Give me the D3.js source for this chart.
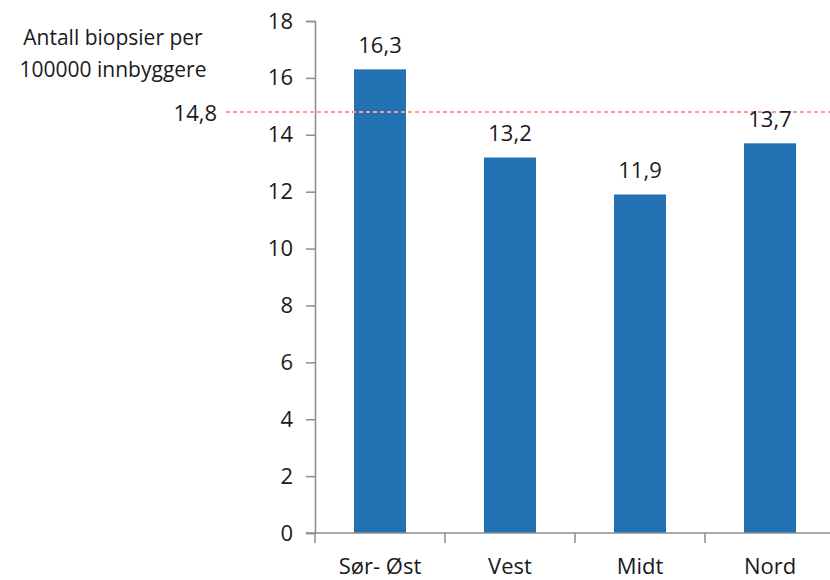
<!DOCTYPE html>
<html><head><meta charset="utf-8">
<script src="https://cdn.jsdelivr.net/npm/d3@7"></script>
<style>body{margin:0;background:#fff}svg{display:block}text{font-family:"Open Sans","Liberation Sans",sans-serif;fill:#1a1a1a}</style>
</head><body>
<svg id="c" width="830" height="580"></svg>
<script>
const categories = ["Sør- Øst", "Vest", "Midt", "Nord"];
const values = [16.3, 13.2, 11.9, 13.7];
const valueLabels = ["16,3", "13,2", "11,9", "13,7"];
const yTicks = [0, 2, 4, 6, 8, 10, 12, 14, 16, 18];
const refValue = 14.8;
const refLabel = "14,8";
const yTitle = ["Antall biopsier per", "100000 innbyggere"];

const FS = 22;
const svg = d3.select("#c");
const x = d3.scaleBand().domain(categories).range([315, 835]).paddingInner(0.6).paddingOuter(0.3);
const y = d3.scaleLinear().domain([0, 18]).range([533, 21]);
const axisColor = "#8c8c8c";

// bars
svg.selectAll("rect.bar").data(values).join("rect")
  .attr("class", "bar")
  .attr("x", (d, i) => x(categories[i]))
  .attr("width", x.bandwidth())
  .attr("y", d => y(d))
  .attr("height", d => y(0) - y(d))
  .attr("fill", "#2271b3");

// y axis
const yAxis = svg.append("g").attr("transform", "translate(315,0)")
  .call(d3.axisLeft(y).tickValues(yTicks).tickSize(9).tickPadding(13).tickFormat(d3.format("d")));
yAxis.select(".domain").attr("stroke", axisColor).attr("stroke-width", 1.5);
yAxis.selectAll(".tick line").attr("stroke", axisColor).attr("stroke-width", 1.5);
yAxis.selectAll(".tick text").attr("font-size", FS).attr("font-family", "Open Sans").attr("fill", "#1a1a1a");

// x axis
const xg = svg.append("g").attr("transform", `translate(0,${y(0)})`);
xg.append("line").attr("x1", 306).attr("x2", 830).attr("stroke", axisColor).attr("stroke-width", 1.5);
const step = x.step();
const boundaries = d3.range(categories.length + 1).map(i => 315 + i * step);
xg.selectAll("line.bt").data(boundaries).join("line").attr("class", "bt")
  .attr("x1", d => d).attr("x2", d => d).attr("y1", 0).attr("y2", 10)
  .attr("stroke", axisColor).attr("stroke-width", 1.5);
xg.selectAll("text").data(categories).join("text")
  .attr("x", d => x(d) + x.bandwidth() / 2).attr("y", 41)
  .attr("text-anchor", "middle").attr("font-size", FS).text(d => d);

// reference line
svg.append("line").attr("x1", 226).attr("x2", 830)
  .attr("y1", y(refValue)).attr("y2", y(refValue))
  .attr("stroke", "#ff9a94").attr("stroke-width", 2).attr("stroke-dasharray", "4,3");
svg.append("text").attr("x", 217).attr("y", y(refValue) + 8.5)
  .attr("text-anchor", "end").attr("font-size", FS).text(refLabel);

// value labels
svg.selectAll("text.val").data(values).join("text").attr("class", "val")
  .attr("x", (d, i) => x(categories[i]) + x.bandwidth() / 2)
  .attr("y", d => y(d) - 16.5)
  .attr("text-anchor", "middle").attr("font-size", FS).text((d, i) => valueLabels[i]);

// y title
svg.selectAll("text.yt").data(yTitle).join("text").attr("class", "yt")
  .attr("x", 113).attr("y", (d, i) => 45 + i * 32)
  .attr("text-anchor", "middle").attr("font-size", 21).text(d => d);
</script>
</body></html>
